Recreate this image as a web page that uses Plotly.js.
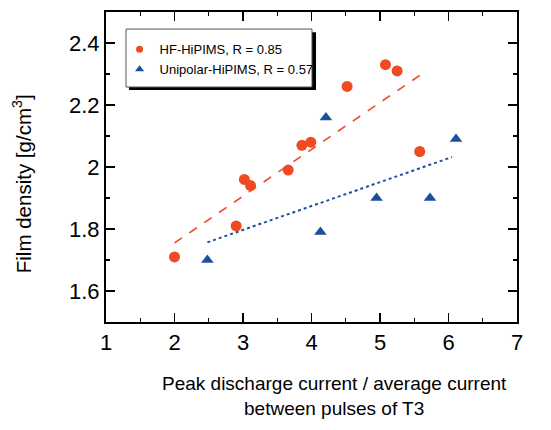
<!DOCTYPE html>
<html>
<head>
<meta charset="utf-8">
<script src="https://cdn.plot.ly/plotly-3.0.1.min.js"></script>
<style>html,body{margin:0;padding:0;background:#fff;}#chart{width:551px;height:430px;}</style>
</head>
<body>
<div id="chart"></div>
<script>
// HF-HiPIMS data
const hfX = [2.0, 2.9, 3.02, 3.11, 3.66, 3.86, 3.99, 4.52, 5.08, 5.25, 5.58];
const hfY = [1.71, 1.81, 1.96, 1.94, 1.99, 2.07, 2.08, 2.26, 2.33, 2.31, 2.05];
// Unipolar-HiPIMS data
const uniX = [2.48, 4.13, 4.21, 4.95, 5.73, 6.11];
const uniY = [1.70, 1.79, 2.16, 1.90, 1.90, 2.09];
// Fit line endpoints
const hfFitX = [2.0, 5.59];
const hfFitY = [1.755, 2.297];
const uniFitX = [2.48, 6.05];
const uniFitY = [1.757, 2.032];
// Labels
const hfName = 'HF-HiPIMS, R = 0.85';
const uniName = 'Unipolar-HiPIMS, R = 0.57';
const xTitle = 'Peak discharge current / average current<br>between pulses of T3';
const yTitle = 'Film density [g/cm<sup>3</sup>]';

const orange = '#f04a23';
const blue = '#1a50a0';

const traces = [
  {x: hfFitX, y: hfFitY, mode: 'lines', line: {color: orange, width: 1.6, dash: 'dash'}, showlegend: false, hoverinfo: 'skip'},
  {x: uniFitX, y: uniFitY, mode: 'lines', line: {color: blue, width: 2, dash: 'dot'}, showlegend: false, hoverinfo: 'skip'},
  {x: hfX, y: hfY, mode: 'markers', name: hfName, showlegend: false, marker: {color: orange, size: 11, symbol: 'circle'}},
  {x: uniX, y: uniY, mode: 'markers', name: uniName, showlegend: false, marker: {color: blue, size: 11, symbol: 'triangle-up'}},
  // legend entries (smaller symbols, no data drawn)
  {x: [null], y: [null], mode: 'markers', name: hfName, marker: {color: orange, size: 7, symbol: 'circle'}},
  {x: [null], y: [null], mode: 'markers', name: uniName, marker: {color: blue, size: 8, symbol: 'triangle-up'}}
];

const axisCommon = {
  showline: true, linecolor: '#000', linewidth: 2, mirror: 'ticks',
  ticks: 'inside', ticklen: 9, tickwidth: 1.5, tickcolor: '#000',
  showgrid: false, zeroline: false,
  tickfont: {family: 'Liberation Sans, Arial, sans-serif', size: 22, color: '#000'}
};

const layout = {
  width: 551, height: 430,
  margin: {l: 106, r: 34, t: 12, b: 108},
  paper_bgcolor: '#fff', plot_bgcolor: '#fff',
  font: {family: 'Liberation Sans, Arial, sans-serif', color: '#000'},
  xaxis: Object.assign({}, axisCommon, {
    range: [1, 7], dtick: 1, tick0: 1,
    minor: {dtick: 0.5, ticks: 'inside', ticklen: 4, tickwidth: 1.2, tickcolor: '#000'}
  }),
  yaxis: Object.assign({}, axisCommon, {
    range: [1.5, 2.5], dtick: 0.2, tick0: 1.6,
    minor: {dtick: 0.1, ticks: 'inside', ticklen: 4, tickwidth: 1.2, tickcolor: '#000'}
  }),
  showlegend: true,
  legend: {
    x: 0.033, y: 0.928, xanchor: 'left', yanchor: 'top',
    bgcolor: 'rgba(0,0,0,0)', borderwidth: 0,
    font: {size: 13, color: '#000'},
    tracegroupgap: 0
  },
  annotations: [
    {text: xTitle, xref: 'paper', yref: 'paper', x: 0.557, y: -0.24, xanchor: 'center', yanchor: 'middle', showarrow: false, font: {size: 19, color: '#000'}},
    {text: yTitle, xref: 'paper', yref: 'paper', x: -0.204, y: 0.445, xanchor: 'center', yanchor: 'middle', textangle: -90, showarrow: false, font: {size: 20.5, color: '#000'}}
  ],
  shapes: [
    {type: 'rect', xref: 'paper', yref: 'paper', x0: 0.056, x1: 0.511, y0: 0.748, y1: 0.935, fillcolor: '#000', line: {width: 0}, layer: 'above'},
    {type: 'rect', xref: 'paper', yref: 'paper', x0: 0.0487, x1: 0.5012, y0: 0.758, y1: 0.945, fillcolor: '#fff', line: {color: '#555', width: 1}, layer: 'above'}
  ]
};

Plotly.newPlot('chart', traces, layout, {displayModeBar: false, staticPlot: true});
</script>
</body>
</html>
